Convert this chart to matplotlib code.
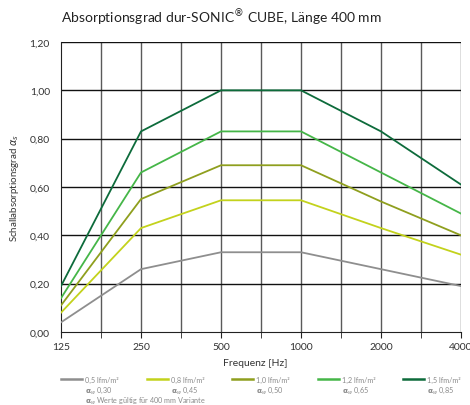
import matplotlib
matplotlib.use("Agg")
import matplotlib.pyplot as plt
from matplotlib.lines import Line2D

freqs = ["125", "250", "500", "1000", "2000", "4000"]
s05 = [0.04, 0.26, 0.33, 0.33, 0.26, 0.19]
s08 = [0.08, 0.43, 0.545, 0.545, 0.43, 0.32]
s10 = [0.11, 0.55, 0.69, 0.69, 0.54, 0.40]
s12 = [0.14, 0.66, 0.83, 0.83, 0.66, 0.49]
s15 = [0.19, 0.83, 1.00, 1.00, 0.83, 0.61]
series = [s05, s08, s10, s12, s15]
labels = ["0,5 lfm/m²", "0,8 lfm/m²", "1,0 lfm/m²", "1,2 lfm/m²", "1,5 lfm/m²"]
alphas = ["0,30", "0,45", "0,50", "0,65", "0,85"]
colors = ["#8e8e8e", "#c3d21c", "#8f9f1e", "#45b648", "#0d6b3b"]
yticks = [0.0, 0.2, 0.4, 0.6, 0.8, 1.0, 1.2]

plt.rcParams['font.family'] = ['Lato', 'DejaVu Sans']
W, H = 470, 406
fig = plt.figure(figsize=(W/100, H/100), dpi=100)
ax = fig.add_axes([61/W, (H-333)/H, 400/W, 290/H])

xpos = [2*i for i in range(len(freqs))]
for s, c in zip(series, colors):
    ax.plot(xpos, s, color=c, lw=1.3, zorder=3)

ax.set_xlim(0, 10)
ax.set_ylim(0, 1.2)
ax.set_xticks(xpos)
ax.set_xticklabels(freqs)
ax.set_xticks(range(11), minor=True)
ax.set_yticks(yticks)
ax.set_yticklabels([f"{v:.2f}".replace('.', ',') for v in yticks])
for x in range(1, 11):
    ax.axvline(x, color="#5a5a5a", lw=1.0, zorder=1)
for y in yticks[1:]:
    ax.axhline(y, color="#111111", lw=1.0, zorder=1)
for sp in ["top", "right"]:
    ax.spines[sp].set_visible(False)
ax.spines["left"].set_color("#222222")
ax.spines["bottom"].set_color("#222222")
ax.tick_params(axis="y", length=0, labelsize=7.5, colors="#333333", pad=8)
ax.tick_params(axis="x", which="both", length=4, labelsize=7.5, colors="#333333", pad=3)
ax.tick_params(axis="x", which="both", color="#222222")

fig.text(61/W, 1-18/H, "Absorptionsgrad dur-SONIC$^{\u00ae}$ CUBE, Länge 400 mm",
         fontsize=10, color="#222222", va="center", ha="left")
ax.set_ylabel("Schallabsorptionsgrad $\\alpha_s$", fontsize=7, color="#333333", labelpad=6)
fig.text(255/W, 1-364/H, "Frequenz [Hz]", fontsize=7.5, color="#333333", ha="center", va="center")

lx = [61, 147, 232, 318, 403]
for x0, lab, al, c in zip(lx, labels, alphas, colors):
    fig.add_artist(Line2D([x0/W, (x0+21)/W], [1-380/H, 1-380/H], color=c, lw=1.8))
    fig.text((x0+24)/W, 1-380/H, lab, fontsize=5.2, color="#8a8a8a", va="center", ha="left")
    fig.text((x0+24)/W, 1-391/H, "$\\mathbf{\\alpha}_w$ " + al, fontsize=5.2, color="#8a8a8a", va="center", ha="left")
fig.text(85/W, 1-401/H, "$\\mathbf{\\alpha}_w$ Werte gültig für 400 mm Variante", fontsize=5.2,
         color="#8a8a8a", va="center", ha="left")

fig.savefig("out.png", dpi=100)
